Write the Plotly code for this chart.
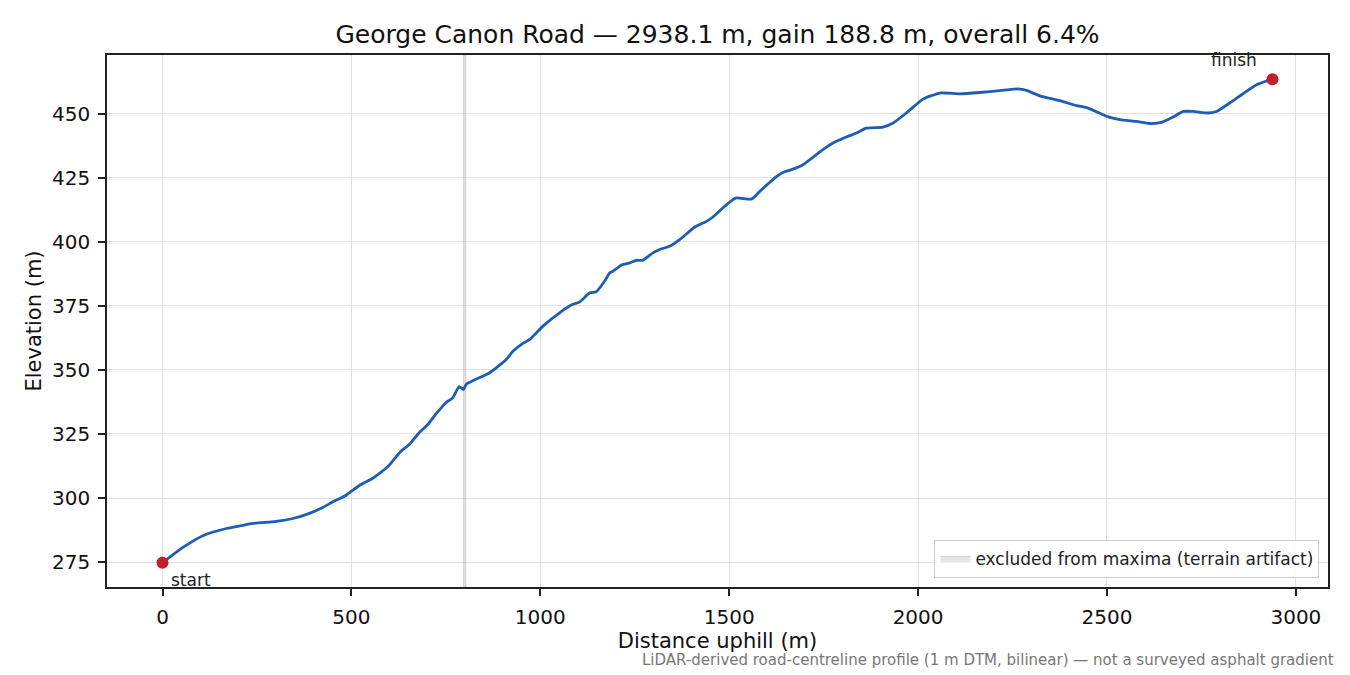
import plotly.graph_objects as go

# distance along the road (m) and elevation (m)
distance_m = [0, 54, 107, 169, 208, 239, 301, 345, 389, 424, 451, 486, 522, 553, 597,
              628, 654, 680, 703, 725, 751, 769, 785, 797, 804, 866, 910, 928, 954, 972,
              1007, 1051, 1086, 1104, 1131, 1148, 1170, 1184, 1192, 1215, 1237, 1254, 1271,
              1298, 1316, 1342, 1369, 1409, 1440, 1457, 1493, 1517, 1559, 1581, 1620, 1642,
              1669, 1695, 1748, 1775, 1810, 1837, 1863, 1907, 1934, 1969, 2013, 2058, 2110,
              2163, 2216, 2265, 2287, 2322, 2375, 2419, 2450, 2499, 2534, 2578, 2613, 2644,
              2675, 2702, 2728, 2768, 2790, 2825, 2860, 2896, 2938.1]
elevation_m = [274.7, 280.7, 285.3, 288.1, 289.2, 290.1, 290.9, 292.0, 294.0, 296.3, 298.5,
               301.1, 305.0, 307.4, 312.3, 317.8, 321.0, 325.6, 328.8, 333.0, 337.3, 339.2,
               343.5, 342.4, 344.4, 348.9, 354.1, 357.4, 360.4, 361.9, 367.1, 372.3, 375.6,
               376.5, 380.1, 380.5, 384.6, 387.9, 388.5, 391.0, 391.8, 392.8, 392.8, 395.7,
               397.0, 398.3, 400.9, 405.8, 408.0, 409.7, 414.5, 417.1, 416.7, 419.7, 424.9,
               427.1, 428.4, 430.1, 436.0, 438.6, 440.9, 442.5, 444.4, 444.8, 446.4, 450.3,
               455.7, 458.1, 457.8, 458.3, 459.0, 459.7, 459.1, 457.0, 455.1, 453.2, 452.2,
               449.0, 447.7, 447.0, 446.2, 446.6, 448.7, 450.9, 450.9, 450.3, 450.9, 454.2,
               457.8, 461.3, 463.5]

# stretch flagged as a terrain artifact
excluded_m = [797, 803]

title = "George Canon Road — 2938.1 m, gain 188.8 m, overall 6.4%"
note = "LiDAR-derived road-centreline profile (1 m DTM, bilinear) — not a surveyed asphalt gradient"

FONT = "DejaVu Sans"
LINE = "#1c5eb4"
RED = "#c41e2a"

# matplotlib-like 5% margins
xspan = distance_m[-1] - distance_m[0]
yspan = max(elevation_m) - min(elevation_m)
xrange_ = [distance_m[0] - 0.05 * xspan, distance_m[-1] + 0.05 * xspan]
yrange_ = [min(elevation_m) - 0.05 * yspan, max(elevation_m) + 0.05 * yspan]

fig = go.Figure()

# excluded span, full height of the axes
fig.add_trace(go.Scatter(
    x=[excluded_m[0], excluded_m[1], excluded_m[1], excluded_m[0], excluded_m[0]],
    y=[yrange_[0], yrange_[0], yrange_[1], yrange_[1], yrange_[0]],
    mode="lines", fill="toself", fillcolor="rgba(128,128,128,0.2)",
    line=dict(color="rgba(128,128,128,0.3)", width=1),
    name="excluded from maxima (terrain artifact)", hoverinfo="skip"))

fig.add_trace(go.Scatter(x=distance_m, y=elevation_m, mode="lines",
                         line=dict(color=LINE, width=2.8, shape="spline", smoothing=0.5),
                         showlegend=False, hoverinfo="x+y"))

fig.add_trace(go.Scatter(x=[distance_m[0], distance_m[-1]],
                         y=[elevation_m[0], elevation_m[-1]],
                         mode="markers", marker=dict(color=RED, size=12),
                         showlegend=False))

fig.add_annotation(x=distance_m[0], y=elevation_m[0], text="start", showarrow=False,
                   xanchor="left", yanchor="top", xshift=6, yshift=-5,
                   font=dict(family=FONT, size=17, color="#222"))
fig.add_annotation(x=distance_m[-1], y=elevation_m[-1], text="finish", showarrow=False,
                   xanchor="right", yanchor="bottom", xshift=-14, yshift=7,
                   font=dict(family=FONT, size=17, color="#222"))

fig.add_annotation(xref="paper", yref="paper", x=1.0066, y=-0.137, text=note,
                   showarrow=False, xanchor="right", yanchor="middle",
                   font=dict(family=FONT, size=15, color="#777"))

axis_common = dict(showline=True, linecolor="#222", linewidth=1.6, mirror=True,
                   ticks="outside", ticklen=7, tickwidth=1.6, tickcolor="#222",
                   ticklabelstandoff=4,
                   showgrid=True, gridcolor="#e2e2e2", gridwidth=1.3, zeroline=False,
                   tickfont=dict(family=FONT, size=20, color="#111"))

fig.update_xaxes(range=xrange_, dtick=500, tick0=0,
                 title=dict(text="Distance uphill (m)", standoff=6,
                            font=dict(family=FONT, size=21, color="#111")),
                 **axis_common)
fig.update_yaxes(range=yrange_, dtick=25, tick0=0,
                 title=dict(text="Elevation (m)", standoff=5,
                            font=dict(family=FONT, size=21, color="#111")),
                 **axis_common)

# the page body adds an 8px offset, so the margins are shifted to compensate
fig.update_layout(
    width=1350, height=675,
    margin=dict(l=99, r=30, t=47, b=96),
    paper_bgcolor="white", plot_bgcolor="white",
    font=dict(family=FONT, color="#111"),
    title=dict(text=title, x=0.5, xref="paper", y=1 - 26 / 675, yanchor="middle",
               font=dict(family=FONT, size=25, color="#111")),
    legend=dict(x=0.993, y=0.017, xanchor="right", yanchor="bottom",
                bgcolor="rgba(255,255,255,0.85)", bordercolor="#cccccc", borderwidth=1,
                font=dict(family=FONT, size=17, color="#222")),
)

fig.write_html("out.html")
